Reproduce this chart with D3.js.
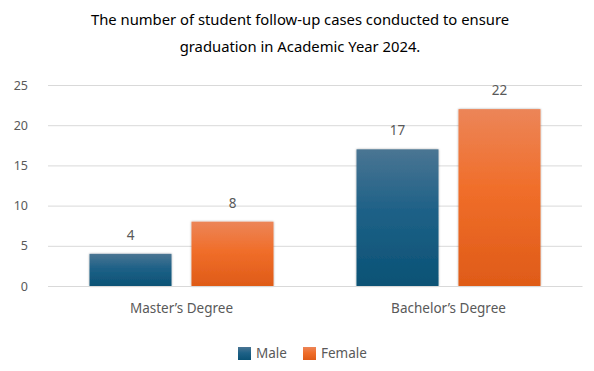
<!DOCTYPE html>
<html><head><meta charset="utf-8">
<script src="https://cdn.jsdelivr.net/npm/d3@7"></script>
<style>body{margin:0;background:#fff}svg{display:block}</style>
</head><body>
<svg id="c" width="594" height="371"></svg>
<script>
const categories = ["Master’s Degree", "Bachelor’s Degree"];
const seriesNames = ["Male", "Female"];
const maleValues = [4, 17];
const femaleValues = [8, 22];
const yTicks = [0, 5, 10, 15, 20, 25];
const titleLines = ["The number of student follow-up cases conducted to ensure", "graduation in Academic Year 2024."];

const svg = d3.select("#c");
const font = "'Noto Sans', sans-serif";
const W = 594, H = 371;
const m = {l: 48, r: 12, t: 85, b: 85};
const x0 = d3.scaleBand().domain(categories).range([m.l, W - m.r]).paddingInner(0).paddingOuter(0);
const x1 = d3.scaleBand().domain(seriesNames).range([0, x0.bandwidth()]).paddingInner(0.196).paddingOuter(0.407);
const y = d3.scaleLinear().domain([0, 25]).range([286, 85]);

const defs = svg.append("defs");
const grads = {
  Male: [["0%", "#4a7593"], ["45%", "#1e6187"], ["100%", "#0a5275"]],
  Female: [["0%", "#ec8558"], ["45%", "#f06e2a"], ["100%", "#df5b18"]]
};
Object.entries(grads).forEach(([k, stops]) => {
  const g = defs.append("linearGradient").attr("id", "g" + k).attr("x1", 0).attr("y1", 0).attr("x2", 0).attr("y2", 1);
  stops.forEach(s => g.append("stop").attr("offset", s[0]).attr("stop-color", s[1]));
});
const f = defs.append("filter").attr("id", "sh").attr("x", "-10%").attr("y", "-10%").attr("width", "120%").attr("height", "120%");
f.append("feDropShadow").attr("dx", 0).attr("dy", 0).attr("stdDeviation", 1.2).attr("flood-color", "#000").attr("flood-opacity", 0.35);

// title
svg.append("g").selectAll("text").data(titleLines).join("text")
  .attr("x", 300).attr("y", (d, i) => 25 + i * 27)
  .attr("text-anchor", "middle").attr("font-family", font).attr("font-size", 14.8).attr("fill", "#000")
  .text(d => d);

// grid
const yAxis = d3.axisLeft(y).tickValues(yTicks).tickSize(-(W - m.r - m.l)).tickPadding(20);
const ga = svg.append("g").attr("transform", `translate(${m.l},0)`).call(yAxis);
ga.select(".domain").remove();
ga.selectAll(".tick line").attr("stroke", "#d9d9d9").attr("stroke-width", 1);
ga.selectAll(".tick text").attr("font-family", font).attr("font-size", 12.5).attr("fill", "#595959");

// bars
const data = categories.map((c, i) => ({cat: c, vals: [{s: "Male", v: maleValues[i]}, {s: "Female", v: femaleValues[i]}]}));
const grp = svg.append("g").selectAll("g").data(data).join("g").attr("transform", d => `translate(${x0(d.cat)},0)`);
grp.selectAll("rect").data(d => d.vals).join("rect")
  .attr("x", d => x1(d.s)).attr("width", x1.bandwidth())
  .attr("y", d => y(d.v)).attr("height", d => y(0) - y(d.v))
  .attr("fill", d => `url(#g${d.s})`).attr("filter", "url(#sh)");
grp.selectAll("text").data(d => d.vals).join("text")
  .attr("x", d => x1(d.s) + x1.bandwidth() / 2).attr("y", d => y(d.v) - 14)
  .attr("text-anchor", "middle").attr("font-family", font).attr("font-size", 13.5).attr("fill", "#595959")
  .text(d => d.v);

// x labels
const xAxis = d3.axisBottom(x0).tickSize(0).tickPadding(17);
const gx = svg.append("g").attr("transform", `translate(0,${y(0)})`).call(xAxis);
gx.select(".domain").attr("stroke", "#d9d9d9");
gx.selectAll(".tick text").attr("font-family", font).attr("font-size", 13.5).attr("fill", "#595959");

// legend
const legX = [238, 303];
const lg = svg.append("g").selectAll("g").data(seriesNames).join("g").attr("transform", (d, i) => `translate(${legX[i]},347)`);
lg.append("rect").attr("width", 13).attr("height", 13).attr("fill", d => `url(#g${d})`);
lg.append("text").attr("x", 18).attr("y", 11).attr("font-family", font).attr("font-size", 13.5).attr("fill", "#595959").text(d => d);
</script>
</body></html>
